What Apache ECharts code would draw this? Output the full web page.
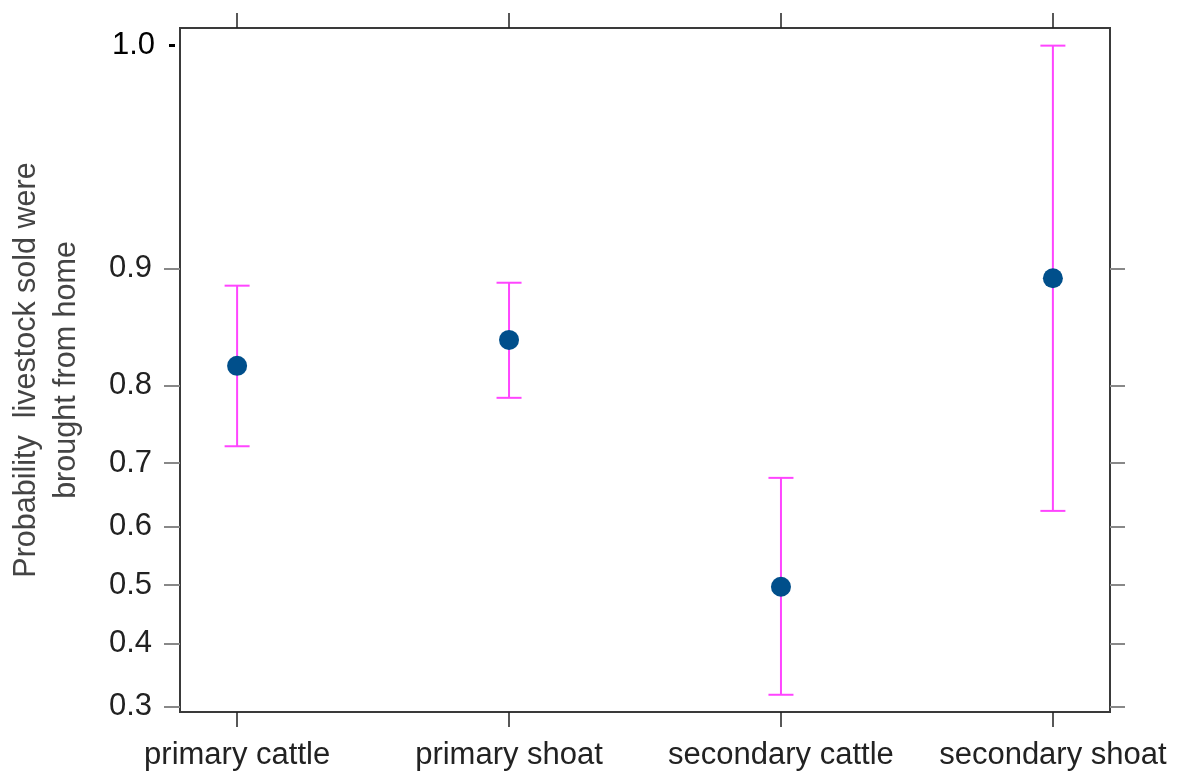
<!DOCTYPE html>
<html>
<head>
<meta charset="utf-8">
<script src="https://cdn.jsdelivr.net/npm/echarts@6/dist/echarts.min.js"></script>
<style>
  html, body { margin: 0; padding: 0; background: #fff; }
  #chart { width: 1177px; height: 773px; }
</style>
</head>
<body>
<div id="chart"></div>
<script>
// Effect estimates (probability scale) with confidence limits
const categories = ['primary cattle', 'primary shoat', 'secondary cattle', 'secondary shoat'];
const fitValues = [0.821, 0.846, 0.497, 0.894];
const lowerValues = [0.724, 0.786, 0.318, 0.626];
const upperValues = [0.889, 0.891, 0.678, 0.977];

// Tick marks on the probability axis
const yTickValues = [0.3, 0.4, 0.5, 0.6, 0.7, 0.8, 0.9];
const yTopTickValue = [0.977];
const yTopTickLabel = ['1.0'];

// Axis extent in probability units
const yRange = [0.2926, 0.9796];
const xRange = [0.79, 4.21];

const logit = p => Math.log(p / (1 - p));
const xPos = categories.map((c, i) => i + 1);

const errData = categories.map((c, i) => [xPos[i], logit(lowerValues[i]), logit(upperValues[i])]);
const fitData = categories.map((c, i) => [xPos[i], logit(fitValues[i])]);

const fontFamily = 'Liberation Sans, Arial, sans-serif';
const labelSize = 31;

const hiddenLine = { show: false, onZero: false };

const chart = echarts.init(document.getElementById('chart'));
chart.setOption({
  animation: false,
  grid: {
    left: 180, right: 67, top: 28, bottom: 61,
    outerBoundsMode: 'none', containLabel: false,
    show: true, borderColor: '#3a3a3a', borderWidth: 2, backgroundColor: 'transparent'
  },
  xAxis: [
    {
      type: 'value', min: xRange[0], max: xRange[1], position: 'bottom',
      axisLine: hiddenLine,
      splitLine: { show: false },
      axisTick: { show: true, customValues: xPos, length: 15, lineStyle: { color: '#222', width: 1.5 } },
      axisLabel: {
        show: true, customValues: xPos, margin: 28,
        fontSize: labelSize, color: '#222', fontFamily,
        formatter: v => categories[Math.round(v) - 1]
      }
    },
    {
      type: 'value', min: xRange[0], max: xRange[1], position: 'top',
      axisLine: hiddenLine,
      splitLine: { show: false },
      axisTick: { show: true, customValues: xPos, length: 15, lineStyle: { color: '#222', width: 1.5 } },
      axisLabel: { show: false }
    }
  ],
  yAxis: [
    {
      type: 'value', min: logit(yRange[0]), max: logit(yRange[1]), position: 'left',
      axisLine: hiddenLine,
      splitLine: { show: false },
      axisTick: { show: true, customValues: yTickValues.map(logit), length: 16, lineStyle: { color: '#888', width: 2 } },
      axisLabel: {
        show: true, customValues: yTickValues.map(logit), margin: 28,
        fontSize: labelSize, color: '#222', fontFamily,
        formatter: v => (1 / (1 + Math.exp(-v))).toFixed(1)
      },
      name: 'Probability  livestock sold were\nbrought from home',
      nameLocation: 'middle', nameRotate: 90, nameGap: 93,
      nameTextStyle: { fontSize: 30.5, color: '#444', fontFamily, lineHeight: 40 }
    },
    {
      type: 'value', min: logit(yRange[0]), max: logit(yRange[1]), position: 'right',
      axisLine: hiddenLine,
      splitLine: { show: false },
      axisTick: { show: true, customValues: yTickValues.map(logit), length: 15, lineStyle: { color: '#888', width: 2 } },
      axisLabel: { show: false }
    },
    {
      type: 'value', min: logit(yRange[0]), max: logit(yRange[1]), position: 'left', offset: 5,
      axisLine: hiddenLine,
      splitLine: { show: false },
      axisTick: { show: true, customValues: yTopTickValue.map(logit), length: 6, lineStyle: { color: '#000', width: 3 } },
      axisLabel: {
        show: true, customValues: yTopTickValue.map(logit), margin: 20,
        fontSize: labelSize, color: '#000', fontFamily,
        formatter: () => yTopTickLabel[0]
      }
    }
  ],
  series: [
    {
      type: 'custom',
      xAxisIndex: 0, yAxisIndex: 0,
      data: errData,
      renderItem: (params, api) => {
        const lo = api.coord([api.value(0), api.value(1)]);
        const hi = api.coord([api.value(0), api.value(2)]);
        const cap = 12.5;
        const style = { stroke: '#ff45ff', lineWidth: 2, fill: null };
        return {
          type: 'group',
          children: [
            { type: 'line', shape: { x1: lo[0], y1: lo[1], x2: hi[0], y2: hi[1] }, style },
            { type: 'line', shape: { x1: lo[0] - cap, y1: lo[1], x2: lo[0] + cap, y2: lo[1] }, style },
            { type: 'line', shape: { x1: hi[0] - cap, y1: hi[1], x2: hi[0] + cap, y2: hi[1] }, style }
          ]
        };
      },
      z: 2
    },
    {
      type: 'scatter',
      xAxisIndex: 0, yAxisIndex: 0,
      data: fitData,
      symbol: 'circle', symbolSize: 20,
      itemStyle: { color: '#004f8b', opacity: 1 },
      z: 3
    }
  ]
});
</script>
</body>
</html>
